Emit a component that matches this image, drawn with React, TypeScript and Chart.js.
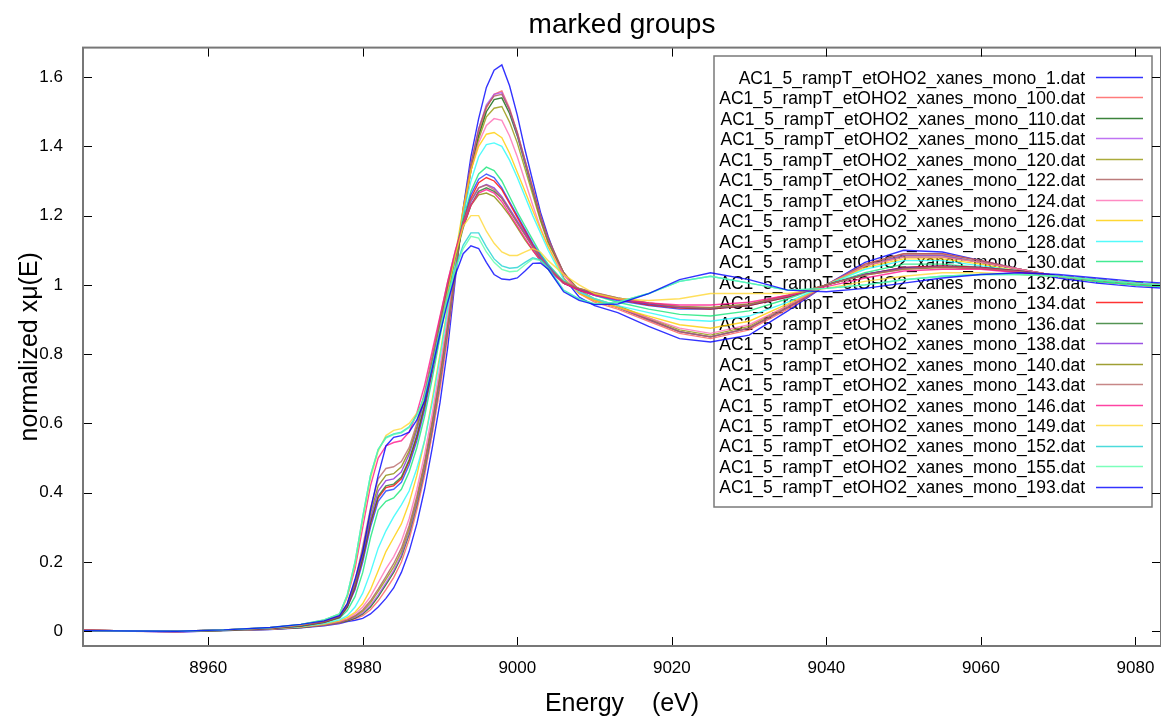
import React, { useEffect, useRef } from "react";
import { Chart, registerables } from "chart.js";

Chart.register(...registerables);

const FONT = "'Liberation Sans', Arial, sans-serif";

// energy grid (eV)
const energy = [
  8943, 8950, 8956, 8962, 8968, 8972, 8975, 8977,
  8978, 8979, 8980, 8981, 8982, 8983, 8984, 8985, 8986, 8987, 8988, 8989, 8990,
  8991, 8992, 8993, 8994, 8995, 8996, 8997, 8998, 8999, 9000, 9001, 9002, 9003, 9004,
  9006, 9008, 9010, 9013, 9017, 9021, 9025, 9030, 9035, 9040, 9045, 9050, 9055,
  9060, 9065, 9070, 9075, 9080, 9084,
];

const xTicks = [8960, 8980, 9000, 9020, 9040, 9060, 9080];
const yTicks = [0, 0.2, 0.4, 0.6, 0.8, 1, 1.2, 1.4, 1.6];

const seriesNames = [
  "AC1_5_rampT_etOHO2_xanes_mono_1.dat",
  "AC1_5_rampT_etOHO2_xanes_mono_100.dat",
  "AC1_5_rampT_etOHO2_xanes_mono_110.dat",
  "AC1_5_rampT_etOHO2_xanes_mono_115.dat",
  "AC1_5_rampT_etOHO2_xanes_mono_120.dat",
  "AC1_5_rampT_etOHO2_xanes_mono_122.dat",
  "AC1_5_rampT_etOHO2_xanes_mono_124.dat",
  "AC1_5_rampT_etOHO2_xanes_mono_126.dat",
  "AC1_5_rampT_etOHO2_xanes_mono_128.dat",
  "AC1_5_rampT_etOHO2_xanes_mono_130.dat",
  "AC1_5_rampT_etOHO2_xanes_mono_132.dat",
  "AC1_5_rampT_etOHO2_xanes_mono_134.dat",
  "AC1_5_rampT_etOHO2_xanes_mono_136.dat",
  "AC1_5_rampT_etOHO2_xanes_mono_138.dat",
  "AC1_5_rampT_etOHO2_xanes_mono_140.dat",
  "AC1_5_rampT_etOHO2_xanes_mono_143.dat",
  "AC1_5_rampT_etOHO2_xanes_mono_146.dat",
  "AC1_5_rampT_etOHO2_xanes_mono_149.dat",
  "AC1_5_rampT_etOHO2_xanes_mono_152.dat",
  "AC1_5_rampT_etOHO2_xanes_mono_155.dat",
  "AC1_5_rampT_etOHO2_xanes_mono_193.dat",
];

const seriesColors = [
  "rgba(0,0,255,0.8)",
  "rgba(255,90,90,0.8)",
  "rgba(10,100,10,0.8)",
  "rgba(175,80,240,0.8)",
  "rgba(150,150,10,0.8)",
  "rgba(170,90,90,0.8)",
  "rgba(255,110,180,0.8)",
  "rgba(255,205,0,0.8)",
  "rgba(40,250,250,0.8)",
  "rgba(20,230,120,0.8)",
  "rgba(30,60,255,0.8)",
  "rgba(255,0,0,0.8)",
  "rgba(40,120,40,0.8)",
  "rgba(130,40,220,0.8)",
  "rgba(135,135,0,0.8)",
  "rgba(185,105,105,0.8)",
  "rgba(255,20,140,0.8)",
  "rgba(255,215,50,0.8)",
  "rgba(30,210,210,0.8)",
  "rgba(90,255,170,0.8)",
  "rgba(0,0,255,0.8)",
];

const mu_1 = [
  0.003, 0.001, -0.002, 0.002, 0.005, 0.01, 0.016, 0.022,
  0.028, 0.032, 0.037, 0.05, 0.07, 0.095, 0.125, 0.17, 0.23, 0.31, 0.41, 0.53, 0.66,
  0.82, 1.02, 1.22, 1.37, 1.48, 1.57, 1.62, 1.635, 1.575, 1.49, 1.39, 1.3, 1.21, 1.14,
  1.02, 0.965, 0.94, 0.92, 0.88, 0.845, 0.835, 0.855, 0.925, 1.0, 1.065, 1.1, 1.095,
  1.07, 1.045, 1.02, 1.005, 0.995, 0.99,
];
const mu_100 = [
  0.002, 0.0, -0.001, 0.003, 0.006, 0.011, 0.017, 0.024,
  0.03, 0.036, 0.045, 0.062, 0.088, 0.12, 0.155, 0.2, 0.265, 0.35, 0.45, 0.57, 0.7,
  0.85, 1.03, 1.2, 1.34, 1.44, 1.51, 1.55, 1.56, 1.51, 1.44, 1.36, 1.28, 1.2, 1.13,
  1.03, 0.975, 0.95, 0.93, 0.895, 0.86, 0.845, 0.87, 0.93, 1.0, 1.06, 1.09, 1.09,
  1.07, 1.045, 1.025, 1.01, 1.0, 0.995,
];
const mu_110 = [
  0.003, 0.001, -0.001, 0.002, 0.006, 0.011, 0.018, 0.025,
  0.03, 0.038, 0.05, 0.07, 0.1, 0.135, 0.17, 0.215, 0.28, 0.365, 0.465, 0.585, 0.72,
  0.87, 1.04, 1.2, 1.33, 1.43, 1.5, 1.535, 1.54, 1.495, 1.43, 1.35, 1.27, 1.19, 1.125,
  1.035, 0.98, 0.955, 0.935, 0.9, 0.865, 0.85, 0.875, 0.935, 1.0, 1.055, 1.085, 1.085,
  1.065, 1.045, 1.025, 1.01, 1.0, 0.995,
];
const mu_115 = [
  0.002, 0.001, -0.002, 0.003, 0.006, 0.012, 0.018, 0.026,
  0.032, 0.04, 0.053, 0.075, 0.105, 0.14, 0.175, 0.22, 0.285, 0.37, 0.47, 0.59, 0.725,
  0.875, 1.045, 1.21, 1.35, 1.45, 1.52, 1.55, 1.555, 1.505, 1.435, 1.355, 1.275, 1.195, 1.13,
  1.035, 0.98, 0.955, 0.935, 0.9, 0.865, 0.85, 0.875, 0.935, 1.0, 1.055, 1.085, 1.085,
  1.065, 1.045, 1.025, 1.01, 1.0, 0.995,
];
const mu_120 = [
  0.003, 0.001, -0.001, 0.003, 0.007, 0.012, 0.019, 0.027,
  0.033, 0.043, 0.058, 0.082, 0.115, 0.15, 0.185, 0.23, 0.295, 0.38, 0.48, 0.6, 0.735,
  0.885, 1.05, 1.2, 1.33, 1.42, 1.485, 1.51, 1.515, 1.47, 1.41, 1.335, 1.26, 1.185, 1.12,
  1.035, 0.985, 0.96, 0.94, 0.905, 0.87, 0.855, 0.88, 0.94, 1.0, 1.055, 1.08, 1.08,
  1.065, 1.045, 1.025, 1.01, 1.0, 0.995,
];
const mu_122 = [
  0.002, 0.0, -0.001, 0.003, 0.007, 0.012, 0.019, 0.027,
  0.034, 0.045, 0.062, 0.088, 0.122, 0.158, 0.195, 0.24, 0.305, 0.39, 0.49, 0.61, 0.745,
  0.895, 1.06, 1.22, 1.35, 1.45, 1.515, 1.545, 1.55, 1.505, 1.44, 1.36, 1.28, 1.2, 1.135,
  1.035, 0.98, 0.955, 0.935, 0.9, 0.865, 0.85, 0.875, 0.935, 1.0, 1.06, 1.09, 1.09,
  1.07, 1.045, 1.025, 1.01, 1.0, 0.995,
];
const mu_124 = [
  0.003, 0.001, -0.001, 0.003, 0.007, 0.013, 0.02, 0.029,
  0.036, 0.05, 0.07, 0.1, 0.14, 0.18, 0.215, 0.26, 0.325, 0.41, 0.51, 0.63, 0.765,
  0.91, 1.07, 1.21, 1.33, 1.41, 1.46, 1.48, 1.475, 1.43, 1.37, 1.3, 1.23, 1.165, 1.11,
  1.03, 0.98, 0.955, 0.935, 0.905, 0.875, 0.86, 0.885, 0.94, 1.0, 1.055, 1.08, 1.08,
  1.065, 1.045, 1.025, 1.01, 1.0, 0.995,
];
const mu_126 = [
  0.003, 0.001, 0.0, 0.003, 0.007, 0.013, 0.021, 0.03,
  0.04, 0.055, 0.08, 0.12, 0.175, 0.23, 0.27, 0.31, 0.37, 0.45, 0.55, 0.67, 0.8,
  0.94, 1.09, 1.22, 1.33, 1.4, 1.435, 1.44, 1.425, 1.38, 1.325, 1.27, 1.215, 1.16, 1.11,
  1.02, 0.975, 0.955, 0.935, 0.91, 0.885, 0.875, 0.895, 0.945, 1.0, 1.05, 1.075, 1.075,
  1.06, 1.04, 1.025, 1.01, 1.0, 0.995,
];
const mu_128 = [
  0.002, 0.001, 0.0, 0.003, 0.008, 0.014, 0.022, 0.033,
  0.045, 0.07, 0.11, 0.17, 0.24, 0.29, 0.33, 0.365, 0.405, 0.47, 0.55, 0.66, 0.79,
  0.93, 1.08, 1.2, 1.3, 1.37, 1.405, 1.41, 1.4, 1.36, 1.31, 1.255, 1.2, 1.15, 1.1,
  1.015, 0.98, 0.96, 0.94, 0.92, 0.9, 0.895, 0.91, 0.95, 1.0, 1.045, 1.07, 1.07,
  1.055, 1.04, 1.025, 1.01, 1.0, 0.995,
];
const mu_130 = [
  0.002, 0.0, 0.0, 0.003, 0.008, 0.015, 0.025, 0.038,
  0.06, 0.1, 0.17, 0.27, 0.35, 0.375, 0.385, 0.41, 0.46, 0.53, 0.62, 0.73, 0.85,
  0.97, 1.09, 1.19, 1.27, 1.32, 1.34, 1.33, 1.3, 1.255, 1.21, 1.17, 1.13, 1.09, 1.06,
  1.01, 0.985, 0.97, 0.95, 0.93, 0.915, 0.91, 0.925, 0.96, 1.0, 1.035, 1.06, 1.06,
  1.05, 1.04, 1.025, 1.01, 1.0, 0.995,
];
const mu_132 = [
  0.002, 0.001, 0.0, 0.003, 0.008, 0.015, 0.026, 0.04,
  0.07, 0.12, 0.2, 0.3, 0.375, 0.405, 0.41, 0.43, 0.48, 0.55, 0.64, 0.75, 0.865,
  0.98, 1.09, 1.18, 1.26, 1.305, 1.32, 1.31, 1.28, 1.24, 1.2, 1.16, 1.12, 1.085, 1.055,
  1.005, 0.985, 0.97, 0.955, 0.94, 0.93, 0.93, 0.94, 0.965, 1.0, 1.03, 1.05, 1.055,
  1.05, 1.04, 1.025, 1.015, 1.005, 1.0,
];
const mu_134 = [
  0.003, 0.001, 0.0, 0.003, 0.008, 0.016, 0.026, 0.04,
  0.07, 0.125, 0.21, 0.31, 0.385, 0.415, 0.42, 0.44, 0.49, 0.56, 0.65, 0.755, 0.87,
  0.985, 1.09, 1.18, 1.25, 1.295, 1.31, 1.3, 1.275, 1.235, 1.195, 1.155, 1.115, 1.08, 1.05,
  1.005, 0.985, 0.972, 0.958, 0.942, 0.933, 0.93, 0.94, 0.965, 1.0, 1.03, 1.05, 1.055,
  1.05, 1.04, 1.025, 1.015, 1.005, 1.0,
];
const mu_136 = [
  0.002, 0.0, 0.0, 0.003, 0.009, 0.016, 0.027, 0.041,
  0.072, 0.13, 0.215, 0.315, 0.39, 0.42, 0.425, 0.445, 0.495, 0.565, 0.655, 0.76, 0.875,
  0.985, 1.08, 1.165, 1.23, 1.27, 1.28, 1.27, 1.25, 1.215, 1.18, 1.145, 1.11, 1.075, 1.05,
  1.005, 0.988, 0.975, 0.96, 0.945, 0.935, 0.932, 0.942, 0.967, 1.0, 1.03, 1.048, 1.052,
  1.048, 1.038, 1.025, 1.015, 1.005, 1.0,
];
const mu_138 = [
  0.003, 0.001, 0.0, 0.004, 0.009, 0.017, 0.028, 0.042,
  0.075, 0.135, 0.225, 0.325, 0.405, 0.435, 0.44, 0.46, 0.51, 0.58, 0.67, 0.775, 0.885,
  0.995, 1.09, 1.175, 1.24, 1.28, 1.29, 1.28, 1.255, 1.22, 1.185, 1.15, 1.11, 1.075, 1.05,
  1.005, 0.988, 0.975, 0.96, 0.945, 0.935, 0.933, 0.943, 0.968, 1.0, 1.03, 1.048, 1.052,
  1.048, 1.038, 1.025, 1.015, 1.005, 1.0,
];
const mu_140 = [
  0.002, 0.001, 0.0, 0.004, 0.009, 0.017, 0.028, 0.043,
  0.078, 0.14, 0.235, 0.34, 0.42, 0.45, 0.455, 0.475, 0.52, 0.59, 0.68, 0.785, 0.895,
  1.0, 1.09, 1.17, 1.23, 1.26, 1.265, 1.255, 1.23, 1.2, 1.165, 1.13, 1.1, 1.07, 1.045,
  1.005, 0.99, 0.977, 0.962, 0.948, 0.938, 0.935, 0.945, 0.97, 1.0, 1.028, 1.045, 1.05,
  1.047, 1.037, 1.025, 1.015, 1.005, 1.0,
];
const mu_143 = [
  0.003, 0.001, 0.0, 0.004, 0.01, 0.018, 0.029, 0.044,
  0.08, 0.145, 0.245, 0.355, 0.44, 0.47, 0.475, 0.49, 0.53, 0.6, 0.69, 0.795, 0.905,
  1.01, 1.1, 1.18, 1.245, 1.28, 1.288, 1.275, 1.25, 1.215, 1.18, 1.145, 1.11, 1.08, 1.05,
  1.01, 0.99, 0.978, 0.962, 0.948, 0.937, 0.933, 0.943, 0.968, 1.0, 1.028, 1.046, 1.052,
  1.048, 1.038, 1.025, 1.015, 1.005, 1.0,
];
const mu_146 = [
  0.002, 0.001, 0.0, 0.004, 0.01, 0.019, 0.031, 0.048,
  0.1, 0.18, 0.3, 0.42, 0.5, 0.535, 0.545, 0.55, 0.575, 0.63, 0.71, 0.81, 0.91,
  1.01, 1.1, 1.17, 1.23, 1.265, 1.275, 1.265, 1.24, 1.205, 1.17, 1.135, 1.1, 1.07, 1.045,
  1.005, 0.985, 0.97, 0.958, 0.948, 0.942, 0.942, 0.95, 0.97, 0.995, 1.02, 1.04, 1.045,
  1.045, 1.035, 1.025, 1.015, 1.005, 1.0,
];
const mu_149 = [
  0.002, 0.001, 0.0, 0.004, 0.01, 0.019, 0.032, 0.05,
  0.1, 0.19, 0.32, 0.44, 0.52, 0.565, 0.58, 0.585, 0.6, 0.63, 0.67, 0.76, 0.87,
  0.98, 1.085, 1.17, 1.2, 1.2, 1.155, 1.12, 1.095, 1.085, 1.085, 1.095, 1.105, 1.095, 1.07,
  1.03, 1.0, 0.975, 0.96, 0.955, 0.96, 0.975, 0.975, 0.975, 0.99, 1.01, 1.025, 1.035,
  1.035, 1.03, 1.025, 1.015, 1.005, 1.0,
];
const mu_152 = [
  0.002, 0.001, 0.0, 0.004, 0.01, 0.02, 0.033, 0.05,
  0.105, 0.2, 0.33, 0.45, 0.525, 0.56, 0.57, 0.575, 0.59, 0.625, 0.68, 0.77, 0.87,
  0.97, 1.05, 1.115, 1.15, 1.15, 1.11, 1.075, 1.055, 1.048, 1.05, 1.065, 1.078, 1.072, 1.05,
  0.985, 0.96, 0.945, 0.95, 0.975, 1.01, 1.025, 1.005, 0.985, 0.99, 1.0, 1.015, 1.025,
  1.03, 1.03, 1.025, 1.015, 1.005, 1.0,
];
const mu_155 = [
  0.002, 0.001, 0.0, 0.004, 0.011, 0.02, 0.033, 0.05,
  0.105, 0.2, 0.33, 0.45, 0.525, 0.558, 0.568, 0.573, 0.588, 0.622, 0.678, 0.765, 0.865,
  0.965, 1.045, 1.105, 1.14, 1.135, 1.095, 1.065, 1.045, 1.038, 1.04, 1.058, 1.075, 1.07, 1.045,
  0.983, 0.958, 0.945, 0.95, 0.975, 1.01, 1.025, 1.005, 0.985, 0.99, 1.0, 1.015, 1.025,
  1.03, 1.03, 1.025, 1.015, 1.005, 1.0,
];
const mu_193 = [
  0.002, 0.001, 0.0, 0.004, 0.011, 0.02, 0.03, 0.045,
  0.08, 0.15, 0.23, 0.35, 0.45, 0.535, 0.56, 0.565, 0.575, 0.61, 0.665, 0.76, 0.86,
  0.95, 1.03, 1.09, 1.113, 1.105, 1.065, 1.03, 1.017, 1.015, 1.02, 1.04, 1.062, 1.063, 1.045,
  0.98, 0.955, 0.943, 0.945, 0.975, 1.015, 1.035, 1.015, 0.985, 0.98, 0.99, 1.005, 1.02,
  1.03, 1.035, 1.03, 1.02, 1.01, 1.005,
];

const seriesValues = [
  mu_1, mu_100, mu_110, mu_115, mu_120, mu_122, mu_124, mu_126, mu_128, mu_130,
  mu_132, mu_134, mu_136, mu_138, mu_140, mu_143, mu_146, mu_149, mu_152, mu_155, mu_193,
];

const X_MIN = 8943.8;
const X_MAX = 9083.3;
const Y_MIN = -0.0425;
const Y_MAX = 1.685;

const legendPlugin = {
  id: "boxLegend",
  beforeDatasetsDraw(chart: any) {
    const ctx = chart.ctx;
    ctx.save();
    ctx.strokeStyle = "#7a7a7a";
    ctx.lineWidth = 1.5;
    ctx.strokeRect(714, 56, 438, 451);
    ctx.font = `17.5px ${FONT}`;
    ctx.textAlign = "right";
    ctx.textBaseline = "middle";
    ctx.fillStyle = "#000";
    seriesNames.forEach((name, i) => {
      const y = 79 + i * 20.48;
      ctx.fillText(name, 1085, y);
      ctx.strokeStyle = seriesColors[i];
      ctx.lineWidth = 1.6;
      ctx.beginPath();
      ctx.moveTo(1096, Math.round(y - 2) + 0.5);
      ctx.lineTo(1143, Math.round(y - 2) + 0.5);
      ctx.stroke();
    });
    ctx.restore();
  },
};

const framePlugin = {
  id: "frame",
  afterDraw(chart: any) {
    const { ctx, chartArea: a, scales } = chart;
    ctx.save();
    ctx.strokeStyle = "#000";
    ctx.lineWidth = 1;
    xTicks.forEach((v) => {
      const x = Math.round(scales.x.getPixelForValue(v)) + 0.5;
      ctx.beginPath();
      ctx.moveTo(x, a.bottom);
      ctx.lineTo(x, a.bottom - 9);
      ctx.moveTo(x, a.top);
      ctx.lineTo(x, a.top + 9);
      ctx.stroke();
    });
    yTicks.forEach((v) => {
      const y = Math.round(scales.y.getPixelForValue(v)) + 0.5;
      ctx.beginPath();
      ctx.moveTo(a.left, y);
      ctx.lineTo(a.left + 9, y);
      ctx.moveTo(a.right, y);
      ctx.lineTo(a.right - 9, y);
      ctx.stroke();
    });
    ctx.strokeStyle = "#777";
    ctx.lineWidth = 2;
    ctx.strokeRect(a.left, a.top, a.right - a.left, a.bottom - a.top);
    ctx.restore();
  },
};

export default function App() {
  const ref = useRef<HTMLCanvasElement>(null);
  useEffect(() => {
    document.body.style.margin = "0";
    const canvas = ref.current!;
    const datasets = seriesValues.map((vals, i) => ({
      label: seriesNames[i],
      data: energy.map((e, j) => ({ x: e, y: vals[j] })),
      borderColor: seriesColors[i],
      backgroundColor: seriesColors[i],
      borderWidth: 1.4,
      pointRadius: 0,
      tension: 0,
      fill: false,
      order: -i,
    }));
    const chart = new Chart(canvas, {
      type: "line",
      data: { datasets },
      options: {
        responsive: false,
        animation: false,
        devicePixelRatio: 1,
        layout: { padding: 0 },
        plugins: {
          legend: { display: false },
          tooltip: { enabled: false },
          title: {
            display: true,
            text: "marked groups",
            color: "#000",
            fullSize: false,
            font: { family: FONT, size: 28, weight: "normal" },
            padding: { top: 8, bottom: 6 },
          },
        },
        scales: {
          x: {
            type: "linear",
            min: X_MIN,
            max: X_MAX,
            grid: { display: false },
            border: { display: false },
            ticks: {
              color: "#000",
              font: { family: FONT, size: 17 },
              padding: 4,
              maxRotation: 0,
              autoSkip: false,
              callback: (v: any) => String(v),
            },
            afterBuildTicks: (s: any) => {
              s.ticks = xTicks.map((v) => ({ value: v }));
            },
            afterFit: (s: any) => {
              s.height = 73;
              s.paddingLeft = 0;
              s.paddingRight = 0;
            },
            title: {
              display: true,
              text: "Energy    (eV)",
              color: "#000",
              font: { family: FONT, size: 25 },
              padding: { top: 0, bottom: 0 },
            },
          },
          y: {
            type: "linear",
            min: Y_MIN,
            max: Y_MAX,
            grid: { display: false },
            border: { display: false },
            ticks: {
              color: "#000",
              font: { family: FONT, size: 17 },
              padding: 12,
              callback: (v: any) => String(v),
            },
            afterBuildTicks: (s: any) => {
              s.ticks = yTicks.map((v) => ({ value: v }));
            },
            afterFit: (s: any) => {
              s.width = 83;
              s.paddingTop = 0;
              s.paddingBottom = 0;
            },
            title: {
              display: true,
              text: "normalized xμ(E)",
              color: "#000",
              font: { family: FONT, size: 25 },
              padding: { top: 15, bottom: 0 },
            },
          },
        },
      } as any,
      plugins: [legendPlugin, framePlugin],
    });
    return () => chart.destroy();
  }, []);
  return (
    <canvas
      ref={ref}
      width={1161}
      height={719}
      style={{ display: "block", width: 1161, height: 719 }}
    />
  );
}
